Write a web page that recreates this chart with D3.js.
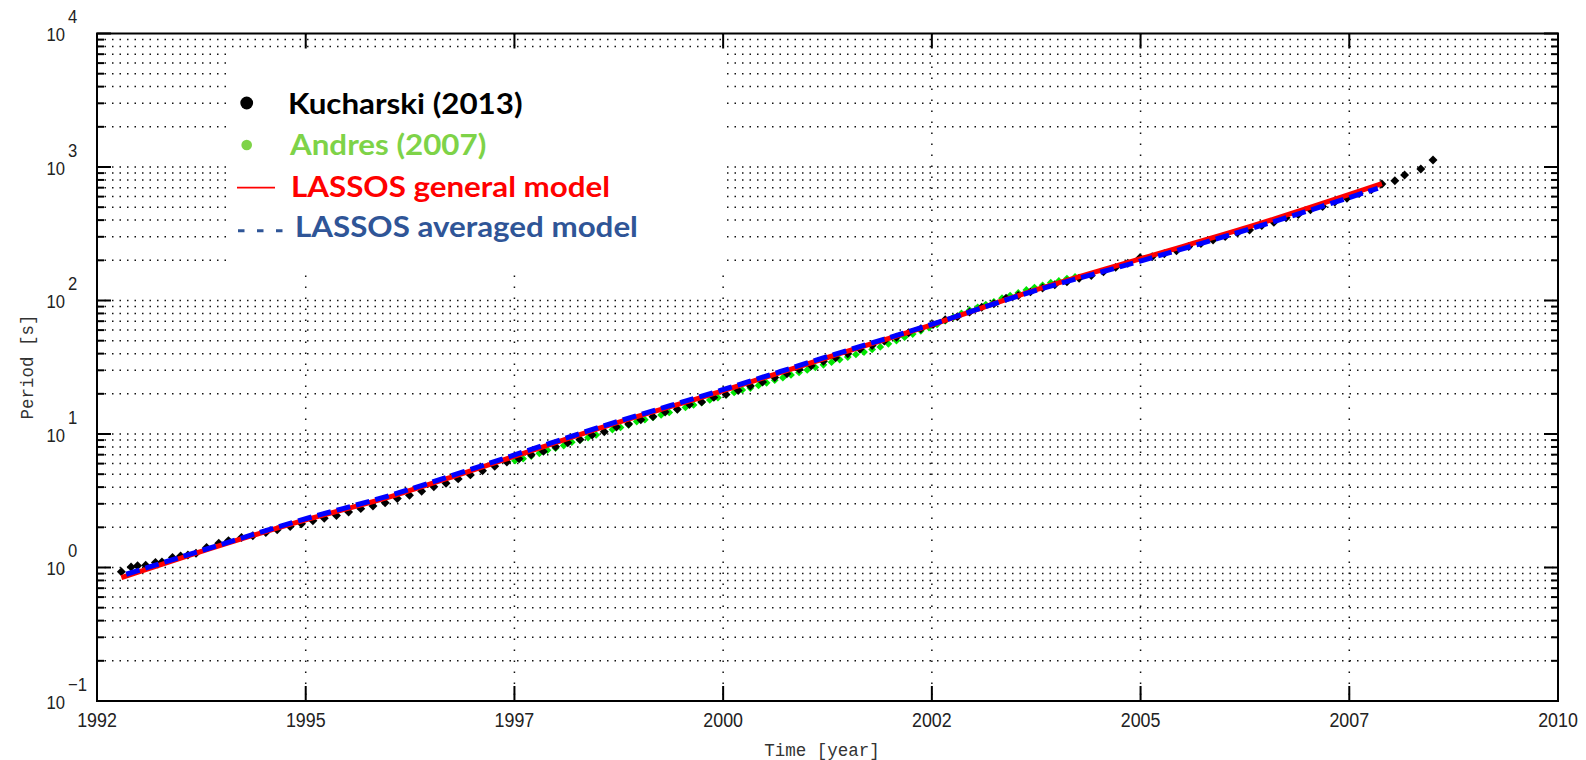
<!DOCTYPE html>
<html>
<head>
<meta charset="utf-8">
<script src="https://cdn.jsdelivr.net/npm/d3@7"></script>
<style>
  html, body { margin: 0; padding: 0; background: #fff; }
  svg { display: block; }
</style>
</head>
<body>
<svg id="chart" width="1586" height="760"></svg>
<script>
// ---- data -------------------------------------------------------------
// Tick labels along the time axis (8 equally spaced ticks, rounded labels)
const xTickLabels = ["1992", "1995", "1997", "2000", "2002", "2005", "2007", "2010"];
// Decades on the period axis and their exponents
const yDecades = [0.1, 1, 10, 100, 1000, 10000];
const yExponents = ["\u22121", "0", "1", "2", "3", "4"];

// LASSOS general model [year, period s]
const generalModel = [
  [1992.30, 0.84], [1993.22, 1.28], [1994.45, 2.17], [1995.68, 3.49],
  [1996.51, 5.08], [1997.29, 7.29], [1998.32, 11.7], [1999.67, 20.7],
  [2001.03, 37.9], [2002.34, 67.5], [2003.49, 116], [2004.85, 205],
  [2006.20, 357], [2007.83, 750]
];

// LASSOS averaged model [year, period s]
const averagedModel = [
  [1992.36, 0.89], [1993.22, 1.30], [1994.45, 2.21], [1995.68, 3.57],
  [1996.51, 5.20], [1997.29, 7.46], [1998.32, 11.9], [1999.67, 21.1],
  [2001.03, 38.5], [2002.34, 67.9], [2003.49, 115], [2004.85, 197],
  [2006.20, 343], [2007.78, 692]
];

// Kucharski (2013) measurements [year, period s]
const kucharski = [
  [1992.30, 0.93], [1992.42, 1.01], [1992.50, 1.03], [1992.60, 1.04],
  [1992.72, 1.09], [1992.80, 1.10], [1992.93, 1.19], [1993.03, 1.22],
  [1993.12, 1.24], [1993.22, 1.28], [1993.35, 1.41], [1993.50, 1.52],
  [1993.62, 1.59], [1993.78, 1.68], [1993.92, 1.73], [1994.08, 1.83],
  [1994.22, 1.92], [1994.38, 2.03], [1994.52, 2.13], [1994.66, 2.24],
  [1994.80, 2.34], [1994.95, 2.45], [1995.10, 2.60], [1995.25, 2.76],
  [1995.40, 2.89], [1995.55, 3.06], [1995.70, 3.29], [1995.85, 3.48],
  [1996.00, 3.72], [1996.15, 4.03], [1996.30, 4.27], [1996.45, 4.61],
  [1996.60, 4.94], [1996.75, 5.30], [1996.90, 5.74], [1997.05, 6.17],
  [1997.20, 6.53], [1997.35, 7.00], [1997.50, 7.41], [1997.65, 8.02],
  [1997.80, 8.59], [1997.95, 9.10], [1998.10, 9.84], [1998.25, 10.4],
  [1998.40, 11.3], [1998.55, 11.9], [1998.70, 12.8], [1998.85, 13.5],
  [1999.00, 14.6], [1999.15, 15.3], [1999.30, 16.6], [1999.45, 17.4],
  [1999.60, 18.8], [1999.75, 19.8], [1999.90, 21.2], [2000.05, 22.9],
  [2000.20, 24.5], [2000.35, 26.5], [2000.50, 28.3], [2000.65, 30.6],
  [2000.80, 32.4], [2000.95, 35.0], [2001.10, 37.3], [2001.25, 39.9],
  [2001.40, 43.2], [2001.55, 46.0], [2001.70, 49.8], [2001.85, 53.1],
  [2002.00, 57.4], [2002.15, 61.4], [2002.30, 66.2], [2002.45, 71.9],
  [2002.60, 75.5], [2002.75, 81.8], [2002.90, 88.9], [2003.05, 94.4],
  [2003.20, 104], [2003.35, 109], [2003.50, 116], [2003.65, 124],
  [2003.80, 131], [2003.95, 138], [2004.10, 147], [2004.25, 154],
  [2004.40, 164], [2004.55, 177], [2004.70, 190], [2004.85, 209],
  [2005.00, 213], [2005.15, 224], [2005.30, 236], [2005.45, 254],
  [2005.60, 267], [2005.75, 284], [2005.90, 301], [2006.05, 321],
  [2006.20, 337], [2006.35, 365], [2006.50, 385], [2006.65, 417],
  [2006.80, 441], [2006.95, 478], [2007.10, 505], [2007.25, 546],
  [2007.40, 583], [2007.55, 632], [2007.70, 676], [2007.83, 746],
  [2007.99, 789], [2008.11, 871], [2008.31, 966], [2008.46, 1127]
];

// Andres (2007) measurements [year, period s]
const andres = [
  [1997.15, 6.31], [1997.25, 6.53], [1997.35, 6.84], [1997.45, 7.16],
  [1997.55, 7.57], [1997.65, 7.83], [1997.75, 8.20], [1997.85, 8.69],
  [1997.95, 8.99], [1998.05, 9.40], [1998.15, 9.84], [1998.25, 10.4],
  [1998.35, 10.8], [1998.45, 11.2], [1998.55, 11.7], [1998.65, 12.4],
  [1998.75, 12.8], [1998.85, 13.3], [1998.95, 13.9], [1999.05, 14.5],
  [1999.15, 15.2], [1999.25, 15.8], [1999.35, 16.5], [1999.45, 17.2],
  [1999.55, 18.0], [1999.65, 18.7], [1999.75, 19.6], [1999.85, 20.5],
  [1999.95, 21.4], [2000.05, 22.1], [2000.15, 23.1], [2000.25, 24.2],
  [2000.35, 25.3], [2000.45, 26.4], [2000.55, 27.7], [2000.65, 28.9],
  [2000.75, 30.2], [2000.85, 31.6], [2000.95, 33.0], [2001.05, 34.5],
  [2001.15, 36.1], [2001.25, 37.7], [2001.35, 39.4], [2001.45, 41.1],
  [2001.55, 43.0], [2001.65, 44.9], [2001.75, 47.4], [2001.85, 50.1],
  [2001.95, 53.1], [2002.05, 56.1], [2002.15, 59.3], [2002.25, 62.7],
  [2002.35, 66.2], [2002.45, 70.3], [2002.55, 74.6], [2002.65, 80.0],
  [2002.75, 84.7], [2002.85, 88.9], [2002.95, 93.3], [2003.05, 97.7],
  [2003.15, 104], [2003.25, 109], [2003.35, 114], [2003.45, 120],
  [2003.55, 125], [2003.65, 130], [2003.75, 136], [2003.85, 140],
  [2003.95, 146], [2004.05, 150]
];

// Legend entries
const legendLabels = ["Kucharski (2013)", "Andres (2007)", "LASSOS general model", "LASSOS averaged model"];

// ---- layout -------------------------------------------------------------
const W = 1586, H = 760;
const plot = { left: 97, right: 1558, top: 33.5, bottom: 701 };

const svg = d3.select("#chart");

const x = d3.scaleLinear().domain([1992, 2010]).range([plot.left, plot.right]);
const y = d3.scaleLog().domain([0.1, 10000]).range([plot.bottom, plot.top]);

const xTicks = d3.range(xTickLabels.length).map(i => 1992 + i * 18 / (xTickLabels.length - 1));
const yMinor = [];
yDecades.slice(0, -1).forEach(d => { for (let k = 2; k <= 9; k++) yMinor.push(d * k); });

// ---- grid -------------------------------------------------------------
const grid = svg.append("g").attr("class", "grid");
grid.selectAll("line.h")
  .data(yDecades.slice(1, -1).concat(yMinor))
  .join("line")
  .attr("x1", plot.left).attr("x2", plot.right)
  .attr("y1", d => y(d)).attr("y2", d => y(d))
  .attr("stroke", "#111").attr("stroke-width", 1.5)
  .attr("stroke-dasharray", "1.5,6");
grid.selectAll("line.v")
  .data(xTicks.slice(1, -1))
  .join("line")
  .attr("x1", d => x(d)).attr("x2", d => x(d))
  .attr("y1", plot.top).attr("y2", plot.bottom)
  .attr("stroke", "#111").attr("stroke-width", 1.5)
  .attr("stroke-dasharray", "1.5,9.5");

// ---- legend panel (white background hides the grid) --------------------
svg.append("rect")
  .attr("x", 226).attr("y", 48).attr("width", 501).attr("height", 220)
  .attr("fill", "#fff");

// ---- data marks -------------------------------------------------------
const greenMark = d3.symbol().type(d3.symbolSquare).size(30);
const blackMark = d3.symbol().type(d3.symbolSquare).size(40);

svg.append("g").selectAll("path")
  .data(andres)
  .join("path")
  .attr("d", greenMark)
  .attr("transform", d => `translate(${x(d[0])},${y(d[1])}) rotate(45)`)
  .attr("fill", "#00e600");

svg.append("g").selectAll("path")
  .data(kucharski)
  .join("path")
  .attr("d", blackMark)
  .attr("transform", d => `translate(${x(d[0])},${y(d[1])}) rotate(45)`)
  .attr("fill", "#000");

const line = d3.line()
  .x(d => x(d[0]))
  .y(d => y(d[1]))
  .curve(d3.curveMonotoneX);

svg.append("path")
  .datum(generalModel)
  .attr("d", line)
  .attr("fill", "none")
  .attr("stroke", "#ff0000")
  .attr("stroke-width", 5);

svg.append("path")
  .datum(averagedModel)
  .attr("d", line)
  .attr("fill", "none")
  .attr("stroke", "#0000ff")
  .attr("stroke-width", 5)
  .attr("stroke-dasharray", "14,6");

// ---- frame and ticks ----------------------------------------------------
const axes = svg.append("g").attr("stroke", "#000");
yDecades.forEach(d => {
  axes.append("line").attr("x1", plot.left).attr("x2", plot.left + 14).attr("y1", y(d)).attr("y2", y(d)).attr("stroke-width", 2);
  axes.append("line").attr("x1", plot.right - 14).attr("x2", plot.right).attr("y1", y(d)).attr("y2", y(d)).attr("stroke-width", 2);
});
yMinor.forEach(d => {
  axes.append("line").attr("x1", plot.left).attr("x2", plot.left + 7).attr("y1", y(d)).attr("y2", y(d)).attr("stroke-width", 2);
  axes.append("line").attr("x1", plot.right - 7).attr("x2", plot.right).attr("y1", y(d)).attr("y2", y(d)).attr("stroke-width", 2);
});
xTicks.forEach(d => {
  axes.append("line").attr("x1", x(d)).attr("x2", x(d)).attr("y1", plot.bottom).attr("y2", plot.bottom - 15).attr("stroke-width", 2);
  axes.append("line").attr("x1", x(d)).attr("x2", x(d)).attr("y1", plot.top).attr("y2", plot.top + 15).attr("stroke-width", 2);
});
svg.append("rect")
  .attr("x", plot.left).attr("y", plot.top)
  .attr("width", plot.right - plot.left).attr("height", plot.bottom - plot.top)
  .attr("fill", "none").attr("stroke", "#000").attr("stroke-width", 2);

// ---- tick labels ----------------------------------------------------------
const labelFont = "'Liberation Sans', Arial, sans-serif";
const yLab = svg.append("g").attr("font-family", labelFont).attr("fill", "#222");
yDecades.forEach((d, i) => {
  const ty = y(d);
  yLab.append("text")
    .attr("transform", `translate(65,${ty + 7.8}) scale(0.9,1)`)
    .attr("text-anchor", "end")
    .attr("font-size", 18.5)
    .text("10");
  yLab.append("text")
    .attr("transform", `translate(68,${ty - 10.5}) scale(0.9,1)`)
    .attr("text-anchor", "start")
    .attr("font-size", 18.5)
    .text(yExponents[i]);
});

const xLab = svg.append("g").attr("font-family", labelFont).attr("fill", "#222");
xTicks.forEach((d, i) => {
  xLab.append("text")
    .attr("transform", `translate(${x(d)},727) scale(0.85,1)`)
    .attr("text-anchor", "middle")
    .attr("font-size", 21)
    .text(xTickLabels[i]);
});

// ---- axis titles ----------------------------------------------------------
svg.append("text")
  .attr("x", 822).attr("y", 756)
  .attr("text-anchor", "middle")
  .attr("font-family", "'Liberation Mono', 'DejaVu Sans Mono', monospace")
  .attr("font-size", 17.5)
  .attr("fill", "#333")
  .text("Time [year]");

svg.append("text")
  .attr("transform", "translate(27,367) rotate(-90)")
  .attr("text-anchor", "middle")
  .attr("dy", "0.35em")
  .attr("font-family", "'Liberation Mono', 'DejaVu Sans Mono', monospace")
  .attr("font-size", 17.5)
  .attr("fill", "#333")
  .text("Period [s]");

// ---- legend -------------------------------------------------------------
const legendFont = "Lato, 'Open Sans', sans-serif";
const leg = svg.append("g").attr("font-family", legendFont).attr("font-weight", 700).attr("font-size", 29);
const legendText = (tx, ty, color, label) =>
  leg.append("text")
    .attr("transform", `translate(${tx},${ty}) scale(1.08,1)`)
    .attr("fill", color)
    .text(label);

leg.append("circle").attr("cx", 246.7).attr("cy", 103).attr("r", 6.4).attr("fill", "#000");
legendText(288, 114, "#000", legendLabels[0]);

leg.append("circle").attr("cx", 246.7).attr("cy", 145).attr("r", 5.3).attr("fill", "#7ed348");
legendText(290, 154.5, "#7ed348", legendLabels[1]);

leg.append("line").attr("x1", 237).attr("x2", 275).attr("y1", 187.7).attr("y2", 187.7)
  .attr("stroke", "#ff0000").attr("stroke-width", 1.8);
legendText(291, 196.5, "#ff0000", legendLabels[2]);

leg.append("line").attr("x1", 238).attr("x2", 284).attr("y1", 230.7).attr("y2", 230.7)
  .attr("stroke", "#2f5597").attr("stroke-width", 3).attr("stroke-dasharray", "6.5,12.5");
legendText(295, 236.5, "#2f5597", legendLabels[3]);
</script>
</body>
</html>
